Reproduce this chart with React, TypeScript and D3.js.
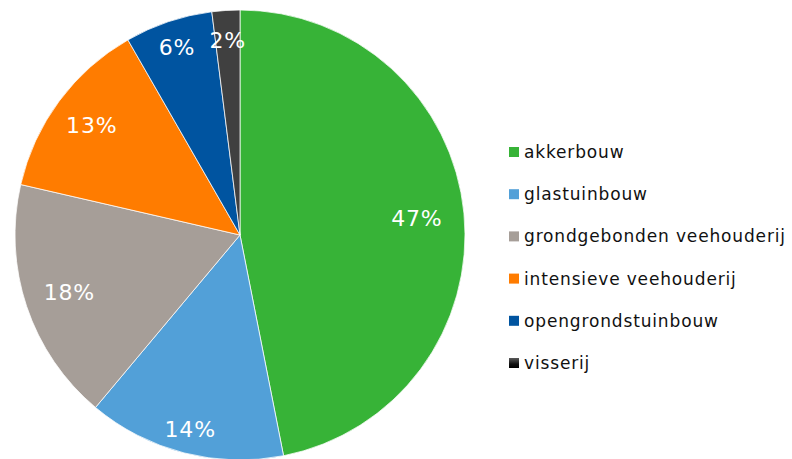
import React from "react";
import * as d3 from "d3";

const categories = [
  "akkerbouw",
  "glastuinbouw",
  "grondgebonden veehouderij",
  "intensieve veehouderij",
  "opengrondstuinbouw",
  "visserij",
];
const shares = [46.9, 14.2, 17.5, 13.1, 6.3, 2.0];
const labels = ["47%", "14%", "18%", "13%", "6%", "2%"];
const colors = ["#37B337", "#52A0D8", "#A69E98", "#FF7C00", "#0054A0", "url(#vissGrad)"];
const legendColors = ["#37B337", "#52A0D8", "#A69E98", "#FF7C00", "#0054A0", "url(#vissLegGrad)"];
// label distance from centre, as fraction of radius (layout only)
const labelRadiusFrac = [0.79, 0.89, 0.8, 0.82, 0.88, 0.87];

const W = 792;
const H = 459;
const cx = 240;
const cy = 235;
const R = 225;

export default function App() {
  const pie = d3
    .pie<number>()
    .sort(null)
    .value((d) => d);
  const arcs = pie(shares);
  const arcGen = d3.arc<d3.PieArcDatum<number>>().innerRadius(0).outerRadius(R);

  const legendX = 509;
  const legendY0 = 158;
  const legendStep = 42.2;

  return (
    <svg
      width={W}
      height={H}
      style={{ position: "absolute", left: 0, top: 0, background: "#fff" }}
      fontFamily="Verdana, 'DejaVu Sans', sans-serif"
    >
      <defs>
        <radialGradient id="vissGrad" gradientUnits="userSpaceOnUse" cx={cx} cy={cy} r={R}>
          <stop offset="0" stopColor="#000" />
          <stop offset="0.6" stopColor="#0e0e0e" />
          <stop offset="0.8" stopColor="#1e1e1e" />
          <stop offset="1" stopColor="#404040" />
        </radialGradient>
        <linearGradient id="vissLegGrad" x1="0" y1="0" x2="0" y2="1">
          <stop offset="0" stopColor="#5a5a5a" />
          <stop offset="0.6" stopColor="#111" />
          <stop offset="1" stopColor="#000" />
        </linearGradient>
      </defs>
      <g transform={`translate(${cx},${cy})`}>
        {arcs.map((a, i) => (
          <path key={categories[i]} d={arcGen(a) || ""} fill={colors[i]} stroke="#fff" strokeWidth={0.75} />
        ))}
        {arcs.map((a, i) => {
          const mid = (a.startAngle + a.endAngle) / 2;
          const r = R * labelRadiusFrac[i];
          const x = Math.sin(mid) * r;
          const y = -Math.cos(mid) * r;
          return (
            <text
              key={"l" + i}
              x={x}
              y={y}
              dy="0.36em"
              textAnchor="middle"
              fill="#fff"
              fontSize={22}
              letterSpacing={0.8}
            >
              {labels[i]}
            </text>
          );
        })}
      </g>
      <g>
        {categories.map((c, i) => {
          const y = legendY0 + i * legendStep;
          return (
            <g key={"leg" + c}>
              <rect x={legendX} y={y - 11} width={10} height={10} fill={legendColors[i]} />
              <text x={legendX + 15} y={y} fontSize={17} fill="#111" letterSpacing={0.85}>
                {c}
              </text>
            </g>
          );
        })}
      </g>
    </svg>
  );
}
